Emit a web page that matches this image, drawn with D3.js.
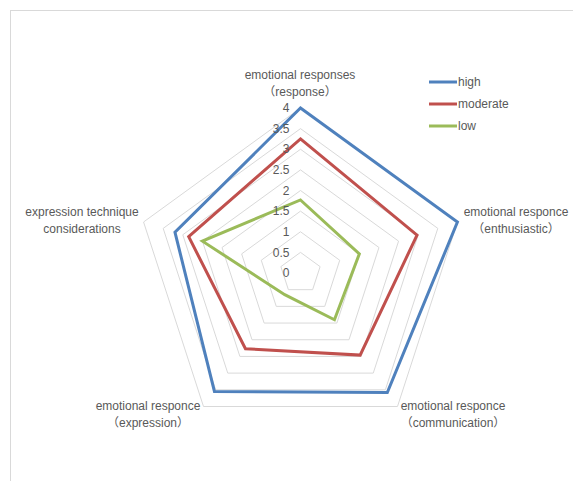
<!DOCTYPE html>
<html>
<head>
<meta charset="utf-8">
<script src="https://cdn.jsdelivr.net/npm/d3@7"></script>
<style>
  html, body { margin: 0; padding: 0; background: #fff; }
  svg { display: block; }
  text { font-family: "Liberation Sans", Arial, "Noto Sans CJK SC", sans-serif; font-size: 12px; fill: #595959; }
</style>
</head>
<body>
<script>
// Axes of the radar, clockwise from the top
const categories = [
  ["emotional responses", "（response）"],
  ["emotional responce", "（enthusiastic）"],
  ["emotional responce", "（communication）"],
  ["emotional responce", "（expression）"],
  ["expression technique", "considerations"]
];
const seriesNames = ["high", "moderate", "low"];
const highValues = [4, 4, 3.58, 3.55, 3.2];
const moderateValues = [3.25, 2.97, 2.46, 2.27, 2.85];
const lowValues = [1.77, 1.5, 1.4, 0.65, 2.5];
const tickValues = [0, 0.5, 1, 1.5, 2, 2.5, 3, 3.5, 4];
const colors = ["#4F81BD", "#C0504D", "#9BBB59"];

const W = 573, H = 481;
const cx = 300.5, cy = 273, R = 165;

const svg = d3.select("body").append("svg").attr("width", W).attr("height", H);

// chart area frame
svg.append("rect")
  .attr("x", 10.5).attr("y", 10.5).attr("width", 620).attr("height", 520)
  .attr("fill", "none").attr("stroke", "#D9D9D9").attr("stroke-width", 1);

const r = d3.scaleLinear().domain([0, 4]).range([0, R]);
const angle = d3.scaleLinear().domain([0, categories.length]).range([0, 2 * Math.PI]);

const g = svg.append("g").attr("transform", `translate(${cx},${cy})`);

const radial = d3.lineRadial()
  .angle((d, i) => angle(i))
  .radius(d => r(d))
  .curve(d3.curveLinearClosed);

// grid pentagons
g.selectAll("path.grid")
  .data(tickValues.filter(t => t > 0))
  .join("path")
  .attr("class", "grid")
  .attr("d", t => radial(categories.map(() => t)))
  .attr("fill", "none")
  .attr("stroke", "#D9D9D9")
  .attr("stroke-width", 1);

// series polygons
const series = [highValues, moderateValues, lowValues];
g.selectAll("path.series")
  .data(series)
  .join("path")
  .attr("class", "series")
  .attr("d", d => radial(d))
  .attr("fill", "none")
  .attr("stroke", (d, i) => colors[i])
  .attr("stroke-width", 3)
  .attr("stroke-linejoin", "miter");

// value tick labels along the top axis
g.selectAll("text.tick")
  .data(tickValues)
  .join("text")
  .attr("class", "tick")
  .attr("x", -11)
  .attr("y", t => -r(t))
  .attr("dy", "0.35em")
  .attr("text-anchor", "end")
  .text(t => t);

// category labels
const labelPos = [
  [300, 75], [516, 212], [453, 406], [148, 406], [82, 212]
];
const lab = svg.selectAll("g.cat")
  .data(categories)
  .join("g")
  .attr("class", "cat")
  .attr("transform", (d, i) => `translate(${labelPos[i][0]},${labelPos[i][1]})`);
lab.selectAll("text")
  .data(d => d)
  .join("text")
  .attr("x", 0)
  .attr("y", (d, i) => i * 16.5)
  .attr("dy", "0.35em")
  .attr("text-anchor", "middle")
  .text(d => d);

// legend
const leg = svg.selectAll("g.leg")
  .data(seriesNames)
  .join("g")
  .attr("class", "leg")
  .attr("transform", (d, i) => `translate(429,${82 + i * 22})`);
leg.append("line")
  .attr("x1", 0).attr("x2", 28).attr("y1", 0).attr("y2", 0)
  .attr("stroke", (d, i) => colors[i]).attr("stroke-width", 3);
leg.append("text")
  .attr("x", 29).attr("y", 0).attr("dy", "0.35em")
  .text(d => d);
</script>
</body>
</html>
